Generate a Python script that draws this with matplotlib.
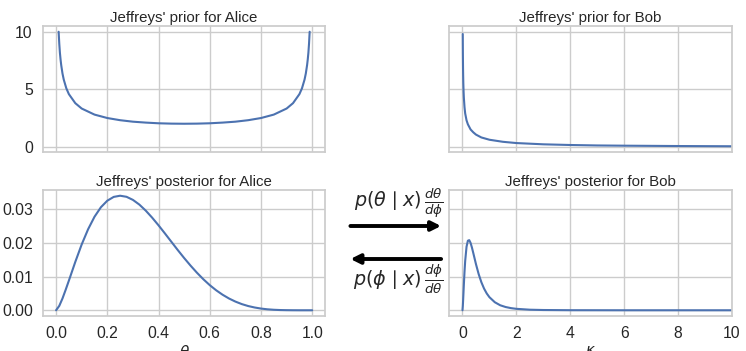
import numpy as np
import matplotlib
matplotlib.use("Agg")
import matplotlib.pyplot as plt
from matplotlib.patches import FancyArrowPatch
import seaborn as sns

# values
theta_prior = [0.01, 0.0125, 0.015, 0.0175, 0.02, 0.025, 0.03, 0.04, 0.05, 0.075, 0.1, 0.15, 0.2, 0.25,
               0.3, 0.35, 0.4, 0.45, 0.5, 0.55, 0.6, 0.65, 0.7, 0.75, 0.8, 0.85, 0.9, 0.925, 0.95,
               0.96, 0.97, 0.975, 0.98, 0.9825, 0.985, 0.9875, 0.99]
alice_prior = [10.05, 9.0, 8.2, 7.62, 7.14, 6.40, 5.86, 5.10, 4.59, 3.80, 3.33, 2.80, 2.50, 2.31,
               2.18, 2.10, 2.04, 2.01, 2.00, 2.01, 2.04, 2.10, 2.18, 2.31, 2.50, 2.80, 3.33, 3.80, 4.59,
               5.10, 5.86, 6.40, 7.14, 7.62, 8.2, 9.0, 10.05]

kappa_prior = [0.0101, 0.0125, 0.015, 0.0175, 0.02, 0.025, 0.03, 0.04, 0.05, 0.075, 0.1, 0.15, 0.2,
               0.3, 0.4, 0.5, 0.7, 1.0, 1.5, 2.0, 3.0, 4.0, 5.0, 6.0, 8.0, 10.0]
bob_prior = [9.85, 8.85, 8.0, 7.45, 6.9, 6.2, 5.6, 4.85, 4.3, 3.45, 2.9, 2.3, 1.95,
             1.5, 1.25, 1.05, 0.8, 0.6, 0.42, 0.31, 0.2, 0.14, 0.1, 0.08, 0.05, 0.03]

theta_post = [0.0, 0.0125, 0.025, 0.0375, 0.05, 0.075, 0.1, 0.125, 0.15, 0.175, 0.2, 0.225, 0.25,
              0.275, 0.3, 0.325, 0.35, 0.375, 0.4, 0.425, 0.45, 0.475, 0.5, 0.525, 0.55, 0.575, 0.6,
              0.625, 0.65, 0.675, 0.7, 0.725, 0.75, 0.775, 0.8, 0.825, 0.85, 0.875, 0.9, 0.925,
              0.95, 0.975, 1.0]
alice_post = [0.0, 0.00132, 0.00351, 0.00611, 0.00883, 0.01439, 0.01959, 0.02411, 0.02783, 0.03066,
              0.03261, 0.03374, 0.03409, 0.03377, 0.03285, 0.03146, 0.02966, 0.02757, 0.02528,
              0.02286, 0.02039, 0.01793, 0.01555, 0.01329, 0.01117, 0.00923, 0.00748, 0.00595,
              0.00463, 0.00351, 0.00259, 0.00184, 0.00126, 0.00083, 0.00051, 0.00029, 0.00015,
              0.00007, 0.00003, 0.00001, 0.0, 0.0, 0.0]

kappa_post = [0.0, 0.0125, 0.025, 0.05, 0.075, 0.1, 0.15, 0.2, 0.25, 0.3, 0.35, 0.4, 0.5, 0.6, 0.7,
              0.8, 0.9, 1.0, 1.2, 1.4, 1.6, 1.8, 2.0, 2.5, 3.0, 4.0, 5.0, 6.0, 8.0, 10.0]
bob_post = [0.0, 0.00128, 0.00323, 0.00753, 0.01146, 0.01468, 0.0189, 0.0207, 0.02087, 0.02005,
            0.01868, 0.01706, 0.01373, 0.01077, 0.00836, 0.00646, 0.005, 0.00389, 0.00239, 0.00149,
            0.00097, 0.00064, 0.00043, 0.00017, 0.00008, 0.00002, 0.00001, 0.0, 0.0, 0.0]

theta_ticks = [0.0, 0.2, 0.4, 0.6, 0.8, 1.0]
kappa_ticks = [0, 2, 4, 6, 8, 10]

sns.set_theme(style="whitegrid")
plt.rcParams['font.family'] = ['Liberation Sans', 'DejaVu Sans']
plt.rcParams['mathtext.fontset'] = 'dejavusans'

fig = plt.figure(figsize=(7.46, 3.51), dpi=100)
ax1 = fig.add_axes([0.0580, 0.5670, 0.3777, 0.3589])
ax2 = fig.add_axes([0.6019, 0.5670, 0.3793, 0.3589], sharey=ax1)
ax3 = fig.add_axes([0.0580, 0.0997, 0.3777, 0.3590], sharex=ax1)
ax4 = fig.add_axes([0.6019, 0.0997, 0.3793, 0.3590], sharex=ax2, sharey=ax3)

blue = '#4c72b0'
ax1.plot(theta_prior, alice_prior, color=blue, lw=1.5)
ax1.set_title("Jeffreys' prior for Alice", fontsize=10.8, pad=3)
ax2.plot(kappa_prior, bob_prior, color=blue, lw=1.5)
ax2.set_title("Jeffreys' prior for Bob", fontsize=10.8, pad=3)
ax3.plot(theta_post, alice_post, color=blue, lw=1.5)
ax3.set_title("Jeffreys' posterior for Alice", fontsize=10.8, pad=3)
ax3.set_xlabel(r'$\theta$', fontsize=11, labelpad=2)
ax4.plot(kappa_post, bob_post, color=blue, lw=1.5)
ax4.set_title("Jeffreys' posterior for Bob", fontsize=10.8, pad=3)
ax4.set_xlabel(r'$\kappa$', fontsize=11, labelpad=2)

ax3.set_xlim(-0.05, 1.05)
ax4.set_xlim(-0.5, 10)
ax3.set_xticks(theta_ticks)
ax4.set_xticks(kappa_ticks)
ax1.set_yticks([0, 5, 10])
ax3.set_yticks([0.0, 0.01, 0.02, 0.03])

for ax in (ax1, ax2):
    ax.tick_params(labelbottom=False)
for ax in (ax2, ax4):
    ax.tick_params(labelleft=False)
for ax in (ax1, ax2, ax3, ax4):
    ax.tick_params(labelsize=11.3, pad=1.5)

# arrows between the two columns
fig.text(0.5345, 1 - 204 / 351, r'$p(\theta\mid x)\,\frac{d\theta}{d\phi}$', fontsize=13.8,
         ha='center', va='center')
fig.text(0.5345, 1 - 279 / 351, r'$p(\phi\mid x)\,\frac{d\phi}{d\theta}$', fontsize=13.8,
         ha='center', va='center')
fig.patches.append(FancyArrowPatch(
    (0.466, 1 - 226 / 351), (0.595, 1 - 226 / 351), transform=fig.transFigure,
    arrowstyle='-|>', mutation_scale=14, lw=2.8, color='black'))
fig.patches.append(FancyArrowPatch(
    (0.595, 1 - 259 / 351), (0.466, 1 - 259 / 351), transform=fig.transFigure,
    arrowstyle='-|>', mutation_scale=14, lw=2.8, color='black'))

plt.savefig('out.png', dpi=100)
